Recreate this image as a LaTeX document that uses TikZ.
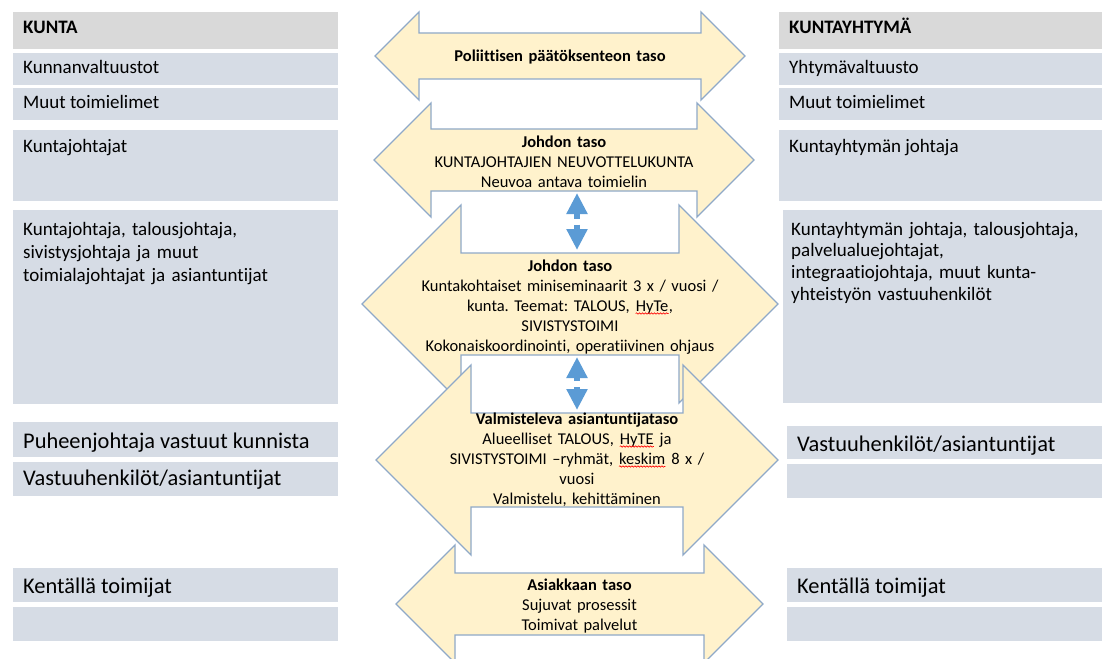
\documentclass[tikz,border=0pt]{standalone}
\usepackage{fontspec}
\setmainfont{Carlito}[Ligatures = NoCommon]
\usetikzlibrary{arrows.meta, decorations.pathmorphing}

\definecolor{cellblue}{HTML}{D6DCE5}
\definecolor{cellgray}{HTML}{D9D9D9}
\definecolor{levelfill}{HTML}{FFF2CC}
\definecolor{leveledge}{HTML}{8FA9C8}
\definecolor{linkblue}{HTML}{5B9BD5}

\newcommand{\spellmark}[1]{\tikz [baseline = (w.base)] {\node [inner sep = 0pt] (w) {#1}; \draw [red, line width = 0.6pt, decorate, decoration = {snake, amplitude = 0.7pt, segment length = 3pt}] ([yshift = -2.5pt] w.base west) -- ([yshift = -2.5pt] w.base east);}}

\frenchspacing

\begin{document}
\begin{tikzpicture}[x = 1pt, y = -1pt,
	cell/.style = {anchor = base west, inner sep = 0pt, font = \fontsize{19}{23}\selectfont},
	bigcell/.style = {anchor = base west, inner sep = 0pt, font = \fontsize{22.4}{26}\selectfont},
	level/.style = {fill = levelfill, draw = leveledge, line width = 1.3pt, line join = miter},
	leveltext/.style = {anchor = base, inner sep = 0pt, align = center, text width = 330pt, font = \fontsize{16.5}{20}\selectfont},
	link/.style = {draw = linkblue, line width = 6pt, -{Triangle[length = 21pt, width = 20pt, fill = linkblue]}}]
	
	\useasboundingbox (0, 0) rectangle (1102, 658);
	
	% Kunta column
	
	\fill [cellgray] (13, 12) rectangle (338, 49);
	\fill [cellblue] (13, 53) rectangle (338, 85);
	\fill [cellblue] (13, 88) rectangle (338, 120);
	\fill [cellblue] (13, 130) rectangle (338, 201);
	\fill [cellblue] (13, 210) rectangle (338, 404);
	\fill [cellblue] (13, 422) rectangle (338, 457);
	\fill [cellblue] (13, 462) rectangle (338, 496);
	\fill [cellblue] (13, 568) rectangle (338, 602);
	\fill [cellblue] (13, 607) rectangle (338, 641);
	
	\node [cell] (kunta) at (23, 34) {\bfseries KUNTA};
	\node [cell] (valtuustot) at (23, 74) {Kunnanvaltuustot};
	\node [cell] (toimielimet) at (23, 109) {Muut toimielimet};
	\node [cell] (kuntajohtajat) at (23, 152) {Kuntajohtajat};
	\node [cell, align = left, text width = 310pt] (johtajat) at (23, 235) {Kuntajohtaja, talousjohtaja,\\ sivistysjohtaja ja muut\\ toimialajohtajat ja asiantuntijat};
	\node [bigcell] (puheenjohtaja) at (23, 448) {Puheenjohtaja vastuut kunnista};
	\node [bigcell] (vastuu) at (23, 485) {Vastuuhenkilöt/asiantuntijat};
	\node [bigcell] (kentta) at (23, 593) {Kentällä toimijat};
	
	% Kuntayhtymä column
	
	\fill [cellgray] (779, 12) rectangle (1102, 49);
	\fill [cellblue] (779, 53) rectangle (1102, 85);
	\fill [cellblue] (779, 88) rectangle (1102, 120);
	\fill [cellblue] (779, 130) rectangle (1102, 201);
	\fill [cellblue] (783, 210) rectangle (1102, 403);
	\fill [cellblue] (787, 426) rectangle (1102, 459);
	\fill [cellblue] (787, 464) rectangle (1102, 498);
	\fill [cellblue] (787, 568) rectangle (1102, 602);
	\fill [cellblue] (787, 607) rectangle (1102, 641);
	
	\node [cell] (yhtyma) at (789, 34) {\bfseries KUNTAYHTYMÄ};
	\node [cell] (yvaltuusto) at (789, 74) {Yhtymävaltuusto};
	\node [cell] (ytoimielimet) at (789, 109) {Muut toimielimet};
	\node [cell] (yjohtaja) at (789, 152) {Kuntayhtymän johtaja};
	\node [cell, align = left, text width = 305pt, font = \fontsize{19}{21.7}\selectfont] (yjohtajat) at (791, 235) {Kuntayhtymän johtaja, talousjohtaja,\\ palvelualuejohtajat,\\ integraatiojohtaja, muut kunta-\\ yhteistyön vastuuhenkilöt};
	\node [bigcell] (yvastuu) at (797, 451) {Vastuuhenkilöt/asiantuntijat};
	\node [bigcell] (ykentta) at (797, 593) {Kentällä toimijat};
	
	% Levels
	
	\draw [level] (375, 56) -- (419, 12) -- (419, 33) -- (701, 33) -- (701, 12) -- (745, 56) -- (701, 100) -- (701, 79) -- (419, 79) -- (419, 100) -- cycle;
	\draw [level] (374, 160) -- (431, 103) -- (431, 129) -- (697, 129) -- (697, 103) -- (754, 160) -- (697, 217) -- (697, 191) -- (431, 191) -- (431, 217) -- cycle;
	\draw [level] (362, 304) -- (461, 205) -- (461, 253) -- (679, 253) -- (679, 205) -- (778, 304) -- (679, 403) -- (679, 355) -- (461, 355) -- (461, 403) -- cycle;
	\draw [level] (376, 460) -- (471, 365) -- (471, 413) -- (683, 413) -- (683, 365) -- (778, 460) -- (683, 555) -- (683, 507) -- (471, 507) -- (471, 555) -- cycle;
	\draw [level] (396, 604) -- (455, 545) -- (455, 573) -- (704, 573) -- (704, 545) -- (763, 604) -- (704, 663) -- (704, 635) -- (455, 635) -- (455, 663) -- cycle;
	
	\node [leveltext] (poliittinen) at (560, 62) {\bfseries Poliittisen päätöksenteon taso};
	\node [leveltext] (neuvottelu) at (564, 147) {{\bfseries Johdon taso}\\ KUNTAJOHTAJIEN NEUVOTTELUKUNTA\\ Neuvoa antava toimielin};
	\node [leveltext] (seminaari) at (570, 271) {{\bfseries Johdon taso}\\ Kuntakohtaiset miniseminaarit 3 x / vuosi /\\ kunta. Teemat: TALOUS, \spellmark{HyTe},\\ SIVISTYSTOIMI\\ Kokonaiskoordinointi, operatiivinen ohjaus};
	\node [leveltext] (valmistelu) at (577, 424) {{\bfseries Valmisteleva asiantuntijataso}\\ Alueelliset TALOUS, \spellmark{HyTE} ja\\ SIVISTYSTOIMI –ryhmät, \spellmark{keskim} 8 x /\\ vuosi\\ Valmistelu, kehittäminen};
	\node [leveltext] (asiakas) at (579.5, 590) {{\bfseries Asiakkaan taso}\\ Sujuvat prosessit\\ Toimivat palvelut};
	
	% Links between levels
	
	\coordinate (neuvottelu bottom) at (577, 193);
	\coordinate (gap1) at (577, 221.5);
	\coordinate (seminaari top) at (577, 250);
	\coordinate (seminaari bottom) at (577, 357);
	\coordinate (gap2) at (577, 384);
	\coordinate (valmistelu top) at (577, 410);
	
	\draw [link, shorten <= 3pt] (gap1) -- (neuvottelu bottom);
	\draw [link, shorten <= 3pt] (gap1) -- (seminaari top);
	\draw [link, shorten <= 3pt] (gap2) -- (seminaari bottom);
	\draw [link, shorten <= 3pt] (gap2) -- (valmistelu top);

\end{tikzpicture}
\end{document}
